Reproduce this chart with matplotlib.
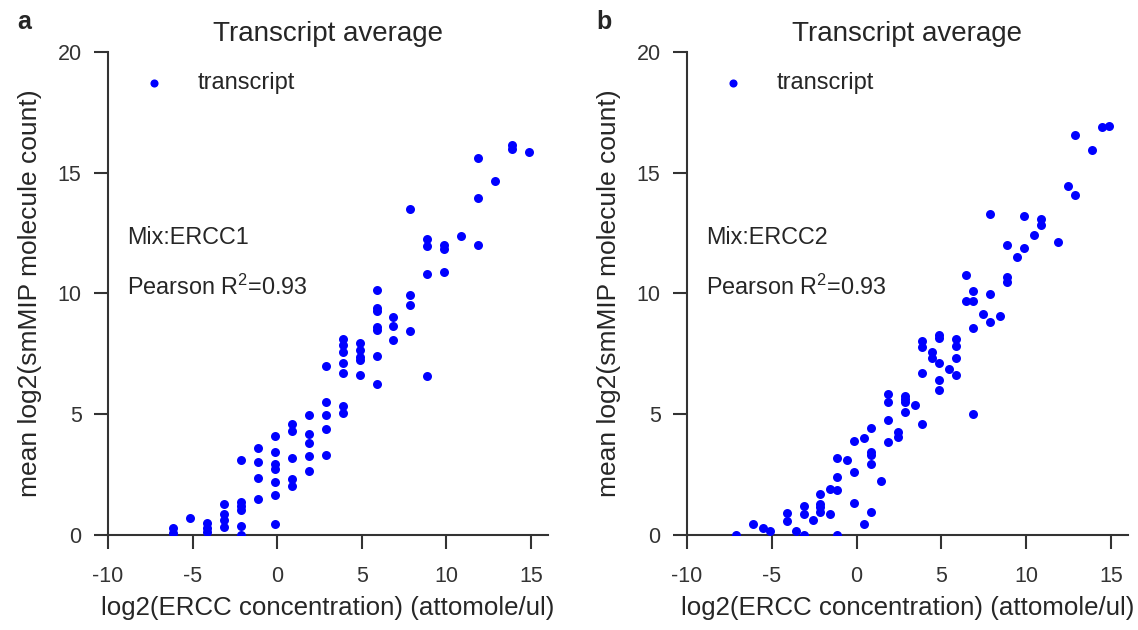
import matplotlib
matplotlib.use("Agg")
import matplotlib.pyplot as plt

# log2 ERCC concentration (attomole/ul) and mean log2 smMIP count, mix 1
mix1_conc = ([-6.13] * 2 + [-5.13] + [-4.13] * 3 + [-3.13] * 4 + [-2.13] * 6
             + [-1.13] * 4 + [-0.13] * 7 + [0.87] * 5 + [1.87] * 5 + [2.87] * 5
             + [3.87] * 7 + [4.87] * 5 + [5.87] * 7 + [6.87] * 3 + [7.87] * 4
             + [8.87] * 4 + [9.87] * 3 + [10.87] + [11.87] * 3 + [12.87]
             + [13.87] * 2 + [14.87])
mix1_count = [0.28, 0.10,
              0.72,
              0.50, 0.28, 0.11,
              1.27, 0.87, 0.62, 0.34,
              3.11, 1.38, 1.20, 1.04, 0.37, 0.01,
              3.60, 3.04, 2.35, 1.47,
              4.10, 3.42, 2.95, 2.74, 2.20, 1.66, 0.47,
              4.60, 4.31, 3.18, 2.31, 2.03,
              4.98, 4.18, 3.80, 3.28, 2.67,
              7.00, 5.50, 4.98, 4.37, 3.31,
              8.13, 7.85, 7.58, 7.12, 6.69, 5.34, 5.05,
              7.95, 7.68, 7.36, 7.26, 6.61,
              10.14, 9.39, 9.27, 8.60, 8.50, 7.43, 6.27,
              9.02, 8.64, 8.06,
              13.49, 9.93, 9.51, 8.46,
              12.24, 11.98, 10.80, 6.60,
              12.00, 11.83, 10.91,
              12.38,
              15.59, 13.94, 12.00,
              14.66,
              16.14, 15.98,
              15.86]

# mix 2
mix2_conc = ([-7.13] + [-6.13] + [-5.545] + [-5.13] + [-4.13] * 2 + [-3.545]
             + [-3.13] * 3 + [-2.545] + [-2.13] * 4 + [-1.545] * 2 + [-1.13] * 4
             + [-0.545] + [-0.13] * 3 + [0.455] * 2 + [0.87] * 5 + [1.455]
             + [1.87] * 4 + [2.455] * 2 + [2.87] * 4 + [3.455] + [3.87] * 4
             + [4.455] * 2 + [4.87] * 5 + [5.455] + [5.87] * 4 + [6.455] * 2
             + [6.87] * 4 + [7.455] + [7.87] * 3 + [8.455] + [8.87] * 3
             + [9.455] + [9.87] * 2 + [10.455] + [10.87] * 2 + [11.87]
             + [12.455] + [12.87] * 2 + [13.87] + [14.455] + [14.87])
mix2_count = [0.0,
              0.47,
              0.28,
              0.18,
              0.90, 0.57,
              0.18,
              1.20, 0.87, 0.0,
              0.62,
              1.70, 1.29, 1.15, 0.95,
              1.92, 0.87,
              3.20, 2.41, 1.87, 0.0,
              3.12,
              3.89, 2.61, 1.34,
              4.01, 0.47,
              4.43, 3.43, 3.32, 2.95, 0.97,
              2.24,
              5.85, 5.49, 4.77, 3.86,
              4.26, 4.05,
              5.77, 5.64, 5.50, 5.10,
              5.37,
              8.05, 7.80, 6.72, 4.60,
              7.59, 7.32,
              8.27, 8.15, 7.14, 6.40, 6.02,
              6.87,
              8.12, 7.81, 7.34, 6.64,
              10.76, 9.67,
              10.12, 9.67, 8.58, 4.99,
              9.14,
              13.30, 9.99, 8.83,
              9.07,
              12.00, 10.69, 10.47,
              11.52,
              13.22, 11.90,
              12.41,
              13.07, 12.85,
              12.15,
              14.44,
              16.58, 14.07,
              15.96,
              16.88,
              16.94]

panels = ["a", "b"]
mixes = ["Mix:ERCC1", "Mix:ERCC2"]
r2_values = [0.93, 0.93]

plt.rcParams["font.family"] = ["Liberation Sans", "DejaVu Sans"]
plt.rcParams["mathtext.default"] = "regular"
plt.rcParams["axes.unicode_minus"] = False
plt.rcParams["text.color"] = "#262626"
plt.rcParams["axes.labelcolor"] = "#262626"
plt.rcParams["xtick.color"] = "#333333"
plt.rcParams["ytick.color"] = "#333333"

fig = plt.figure(figsize=(11.38, 6.3), dpi=100)
ax1 = fig.add_axes([0.0949, 0.1508, 0.3866, 0.7667])
ax2 = fig.add_axes([0.6037, 0.1508, 0.3875, 0.7667])

data = [(mix1_conc, mix1_count), (mix2_conc, mix2_count)]
for i, ax in enumerate([ax1, ax2]):
    x, y = data[i]
    ax.scatter(x, y, s=42, color="#0000ff", linewidths=0, label="transcript", zorder=3)
    ax.set_xlim(-10, 16)
    ax.set_ylim(0, 20)
    ax.set_xticks([-10, -5, 0, 5, 10, 15])
    ax.set_yticks([0, 5, 10, 15, 20])
    for side in ["top", "right"]:
        ax.spines[side].set_visible(False)
    for side in ["left", "bottom"]:
        ax.spines[side].set_linewidth(1.5)
        ax.spines[side].set_color("#333333")
    ax.tick_params(length=10, width=1.5, labelsize=15.5)
    ax.tick_params(axis="x", pad=12)
    ax.tick_params(axis="y", pad=9)
    ax.set_title("Transcript average", fontsize=20, pad=8)
    ax.set_xlabel("log2(ERCC concentration) (attomole/ul)", fontsize=18.6, labelpad=7)
    ax.set_ylabel("mean log2(smMIP molecule count)", fontsize=19, labelpad=11)
    ax.text(0.043, 0.615, mixes[i], transform=ax.transAxes, fontsize=16.8, va="center")
    ax.text(0.043, 0.513, "Pearson R$^2$=%.2f" % r2_values[i], transform=ax.transAxes,
            fontsize=16.8, va="center")
    ax.legend(loc="center left", bbox_to_anchor=(0.057, 0.936), frameon=False,
              fontsize=17, scatterpoints=1, markerscale=0.9, handlelength=1.8,
              handletextpad=0.95, borderaxespad=0, borderpad=0)

fig.text(0.015, 0.965, panels[0], fontsize=18, fontweight="bold", va="center")
fig.text(0.524, 0.965, panels[1], fontsize=18, fontweight="bold", va="center")

fig.savefig("out.png", dpi=100)
